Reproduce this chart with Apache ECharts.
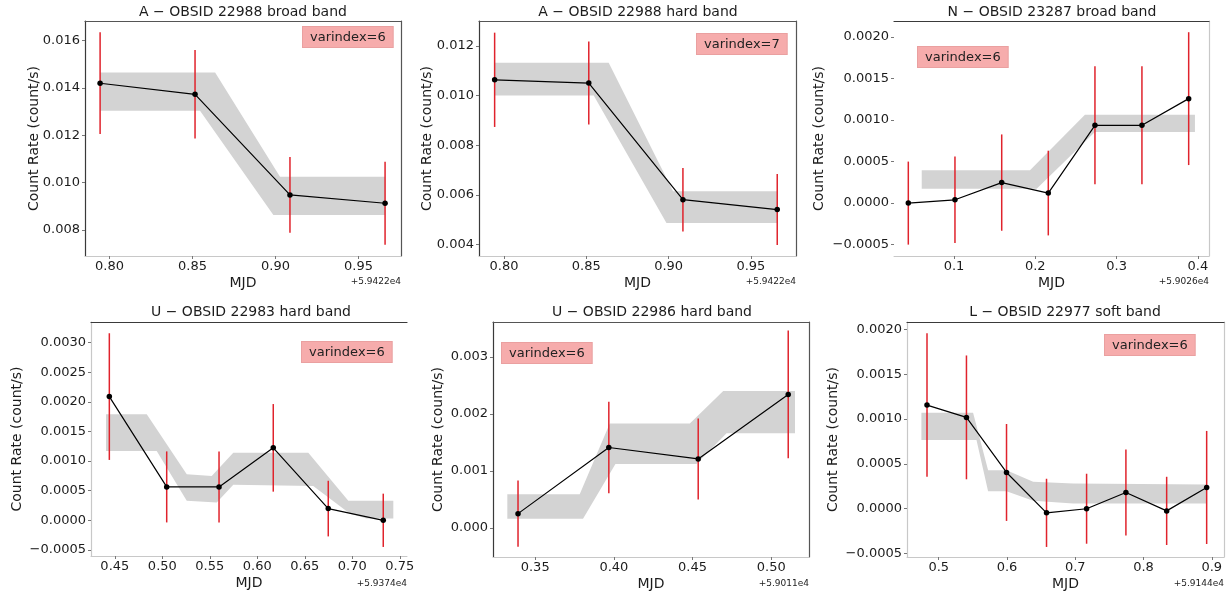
<!DOCTYPE html>
<html>
<head>
<meta charset="utf-8">
<script src="https://cdn.jsdelivr.net/npm/echarts@6/dist/echarts.min.js"></script>
<style>html,body{margin:0;padding:0;background:#fff}#c{width:1232px;height:602px}</style>
</head>
<body>
<div id="c"></div>
<script>
// ---------------- DATA (MJD fractional part relative to the offset shown on each axis) ----------------
const titles = ['A \u2212 OBSID 22988 broad band', 'A \u2212 OBSID 22988 hard band', 'N \u2212 OBSID 23287 broad band',
                'U \u2212 OBSID 22983 hard band', 'U \u2212 OBSID 22986 hard band', 'L \u2212 OBSID 22977 soft band'];
const varIndexLabels = ['varindex=6', 'varindex=7', 'varindex=6', 'varindex=6', 'varindex=6', 'varindex=6'];
const offsetLabels = ['+5.9422e4', '+5.9422e4', '+5.9026e4', '+5.9374e4', '+5.9011e4', '+5.9144e4'];

// Panel 1: A broad
const t1 = [0.7943, 0.8515, 0.9087, 0.9660];
const r1 = [0.01420, 0.01373, 0.00948, 0.00913];
const e1 = [0.00215, 0.00187, 0.00160, 0.00175];
const b1UpX = [0.7943, 0.8636, 0.9027, 0.9660];
const b1Up  = [0.01465, 0.01465, 0.01025, 0.01025];
const b1LoX = [0.7943, 0.8545, 0.8987, 0.9660];
const b1Lo  = [0.01304, 0.01304, 0.00863, 0.00863];

// Panel 2: A hard
const t2 = [0.7943, 0.8515, 0.9087, 0.9660];
const r2 = [0.01064, 0.01051, 0.00581, 0.00541];
const e2 = [0.00190, 0.00167, 0.00128, 0.00143];
const b2UpX = [0.7943, 0.8636, 0.9027, 0.9660];
const b2Up  = [0.01133, 0.01133, 0.00615, 0.00615];
const b2LoX = [0.7943, 0.8545, 0.8987, 0.9660];
const b2Lo  = [0.01001, 0.01001, 0.00487, 0.00487];

// Panel 3: N broad
const t3 = [0.0438, 0.1012, 0.1587, 0.2160, 0.2734, 0.3312, 0.3887];
const r3 = [0.00000, 0.00004, 0.000247, 0.000121, 0.000937, 0.000937, 0.001258];
const e3 = [0.00050, 0.00052, 0.00058, 0.00051, 0.00071, 0.00071, 0.00080];
const b3UpX = [0.0603, 0.1935, 0.2611, 0.3964];
const b3Up  = [0.000395, 0.000395, 0.001065, 0.001065];
const b3LoX = [0.0603, 0.2017, 0.2734, 0.3964];
const b3Lo  = [0.000174, 0.000174, 0.000856, 0.000856];

// Panel 4: U 22983 hard
const t4 = [0.4442, 0.5046, 0.5597, 0.6168, 0.6747, 0.7326];
const r4 = [0.00209, 0.000564, 0.000564, 0.001224, 0.000198, 0.00000];
const e4 = [0.00107, 0.00060, 0.00060, 0.00074, 0.00047, 0.00045];
const b4UpX = [0.4407, 0.4836, 0.5257, 0.5520, 0.5747, 0.6537, 0.6958, 0.7432];
const b4Up  = [0.00179, 0.00179, 0.00078, 0.00075, 0.00114, 0.00114, 0.00033, 0.00033];
const b4LoX = [0.4407, 0.4941, 0.5257, 0.5573, 0.5747, 0.6589, 0.6976, 0.7152, 0.7432];
const b4Lo  = [0.00117, 0.00117, 0.00033, 0.00030, 0.00060, 0.00058, 0.00011, 0.00003, 0.00003];

// Panel 5: U 22986 hard
const t5 = [0.3391, 0.3968, 0.4536, 0.5108];
const r5 = [0.000251, 0.00141, 0.00121, 0.00234];
const e5 = [0.00058, 0.00080, 0.00071, 0.00112];
const b5UpX = [0.3323, 0.3783, 0.3974, 0.4483, 0.4695, 0.5151];
const b5Up  = [0.00059, 0.00059, 0.00183, 0.00183, 0.00240, 0.00240];
const b5LoX = [0.3323, 0.3804, 0.4010, 0.4525, 0.4716, 0.5151];
const b5Lo  = [0.00016, 0.00016, 0.00112, 0.00112, 0.00166, 0.00166];

// Panel 6: L soft
const t6 = [0.4828, 0.5406, 0.5993, 0.6579, 0.7166, 0.7742, 0.8339, 0.8925];
const r6 = [0.001155, 0.001018, 0.000404, -0.000046, 0.00000, 0.000181, -0.000024, 0.000237];
const e6 = [0.00080, 0.00069, 0.00054, 0.00038, 0.00039, 0.00048, 0.00038, 0.00063];
const b6UpX = [0.4746, 0.5503, 0.5723, 0.5993, 0.6383, 0.6969, 0.8925];
const b6Up  = [0.00107, 0.00107, 0.00043, 0.00043, 0.00030, 0.00028, 0.00027];
const b6LoX = [0.4746, 0.5553, 0.5723, 0.5993, 0.6383, 0.6969, 0.8925];
const b6Lo  = [0.000765, 0.000765, 0.000196, 0.000196, 0.000088, 0.000058, 0.000058];

// Tick values
const xTicks1 = [0.80, 0.85, 0.90, 0.95];
const yTicks1 = [0.008, 0.010, 0.012, 0.014, 0.016];
const xTicks2 = [0.80, 0.85, 0.90, 0.95];
const yTicks2 = [0.004, 0.006, 0.008, 0.010, 0.012];
const xTicks3 = [0.1, 0.2, 0.3, 0.4];
const yTicks3 = [-0.0005, 0.0, 0.0005, 0.0010, 0.0015, 0.0020];
const xTicks4 = [0.45, 0.50, 0.55, 0.60, 0.65, 0.70, 0.75];
const yTicks4 = [-0.0005, 0.0, 0.0005, 0.0010, 0.0015, 0.0020, 0.0025, 0.0030];
const xTicks5 = [0.35, 0.40, 0.45, 0.50];
const yTicks5 = [0.000, 0.001, 0.002, 0.003];
const xTicks6 = [0.5, 0.6, 0.7, 0.8, 0.9];
const yTicks6 = [-0.0005, 0.0, 0.0005, 0.0010, 0.0015, 0.0020];

// ---------------- LAYOUT ----------------
const DARK = '#3a3a3a', MID = '#555', LIGHT = '#c8c8c8', NONE = null;
const layout = [
  {grid:{left:85, top:21, width:316, height:235}, xr:[0.7852,0.9756], yr:[0.0069,0.01683], xd:2, yd:3, ygap:44,
   tx:243, ty:12, box:[303,27], off:[401,282], frame:{l:DARK,t:MID,r:MID,b:LIGHT}},
  {grid:{left:479, top:21, width:317, height:235}, xr:[0.7848,0.9774], yr:[0.00354,0.01301], xd:2, yd:3, ygap:45,
   tx:638, ty:12, box:[697,34], off:[796,282], frame:{l:DARK,t:MID,r:MID,b:LIGHT}},
  {grid:{left:894, top:21, width:315, height:235}, xr:[0.0262,0.4137], yr:[-0.000637,0.002193], xd:1, yd:4, ygap:68,
   tx:1052, ty:12, box:[918,47], off:[1209,282], frame:{l:NONE,t:DARK,r:LIGHT,b:LIGHT}},
  {grid:{left:91, top:322, width:316, height:234}, xr:[0.4249,0.7576], yr:[-0.000603,0.00335], xd:2, yd:4, ygap:67,
   tx:251, ty:312, box:[302,342], off:[407,584], frame:{l:LIGHT,t:DARK,r:NONE,b:LIGHT}},
  {grid:{left:493, top:322, width:316, height:235}, xr:[0.3232,0.524], yr:[-0.000509,0.003609], xd:2, yd:3, ygap:48,
   tx:652, ty:312, box:[502,343], off:[809,584], frame:{l:DARK,t:MID,r:MID,b:LIGHT}},
  {grid:{left:907, top:322, width:317, height:235}, xr:[0.4535,0.9179], yr:[-0.000538,0.002081], xd:1, yd:4, ygap:67,
   tx:1065, ty:312, box:[1105,335], off:[1224,584], frame:{l:LIGHT,t:DARK,r:LIGHT,b:LIGHT}}
];

const panels = [
  {t:t1, r:r1, e:e1, ux:b1UpX, u:b1Up, lx:b1LoX, l:b1Lo, xt:xTicks1, yt:yTicks1},
  {t:t2, r:r2, e:e2, ux:b2UpX, u:b2Up, lx:b2LoX, l:b2Lo, xt:xTicks2, yt:yTicks2},
  {t:t3, r:r3, e:e3, ux:b3UpX, u:b3Up, lx:b3LoX, l:b3Lo, xt:xTicks3, yt:yTicks3},
  {t:t4, r:r4, e:e4, ux:b4UpX, u:b4Up, lx:b4LoX, l:b4Lo, xt:xTicks4, yt:yTicks4},
  {t:t5, r:r5, e:e5, ux:b5UpX, u:b5Up, lx:b5LoX, l:b5Lo, xt:xTicks5, yt:yTicks5},
  {t:t6, r:r6, e:e6, ux:b6UpX, u:b6Up, lx:b6LoX, l:b6Lo, xt:xTicks6, yt:yTicks6}
];

const FONT = 'DejaVu Sans';
const TXT = '#1c1c1c';
const ERR = '#e0232c';
const BAND = '#d3d3d3';

function fmt(d) {
  return function (v) {
    const s = Math.abs(v).toFixed(d);
    return (v < -1e-12 ? '\u2212' : '') + s;
  };
}

const grids = [], xAxes = [], yAxes = [], series = [], graphics = [];

panels.forEach(function (p, i) {
  const L = layout[i];
  grids.push(Object.assign({containLabel:false}, L.grid));
  const f = L.frame;
  // bottom x axis (main)
  xAxes.push({
    type:'value', gridIndex:i, position:'bottom', min:L.xr[0], max:L.xr[1],
    axisLine:{show:!!f.b, onZero:false, lineStyle:{color:f.b || '#fff', width:1}},
    axisTick:{show:true, length:3, lineStyle:{color:'#777'}, customValues:p.xt},
    axisLabel:{customValues:p.xt, formatter:fmt(L.xd), margin:4, fontSize:13, fontFamily:FONT, color:TXT},
    splitLine:{show:false},
    name:'MJD', nameLocation:'middle', nameGap:20, nameMoveOverlap:false,
    nameTextStyle:{fontSize:14, fontFamily:FONT, color:TXT}
  });
  // top x axis (frame only)
  xAxes.push({
    type:'value', gridIndex:i, position:'top', min:L.xr[0], max:L.xr[1],
    axisLine:{show:!!f.t, onZero:false, lineStyle:{color:f.t || '#fff', width:1.2}},
    axisTick:{show:false}, axisLabel:{show:false}, splitLine:{show:false}
  });
  // left y axis (main)
  yAxes.push({
    type:'value', gridIndex:i, position:'left', min:L.yr[0], max:L.yr[1],
    axisLine:{show:!!f.l, onZero:false, lineStyle:{color:f.l || '#fff', width:1.2}},
    axisTick:{show:true, length:3, lineStyle:{color:'#777'}, customValues:p.yt},
    axisLabel:{customValues:p.yt, formatter:fmt(L.yd), margin:5, fontSize:13, fontFamily:FONT, color:TXT},
    splitLine:{show:false},
    name:'Count Rate (count/s)', nameLocation:'middle', nameGap:L.ygap, nameRotate:90, nameMoveOverlap:false,
    nameTextStyle:{fontSize:14, fontFamily:FONT, color:TXT}
  });
  // right y axis (frame only)
  yAxes.push({
    type:'value', gridIndex:i, position:'right', min:L.yr[0], max:L.yr[1],
    axisLine:{show:!!f.r, onZero:false, lineStyle:{color:f.r || '#fff', width:1.2}},
    axisTick:{show:false}, axisLabel:{show:false}, splitLine:{show:false}
  });

  const xi = 2 * i, yi = 2 * i;
  // grey band polygon, through the axis scales
  series.push({
    type:'custom', xAxisIndex:xi, yAxisIndex:yi, silent:true, z:1, clip:true,
    data:[[p.ux[0], p.u[0]]],
    renderItem:function (params, api) {
      const pts = [];
      for (let k = 0; k < p.ux.length; k++) pts.push(api.coord([p.ux[k], p.u[k]]));
      for (let k = p.lx.length - 1; k >= 0; k--) pts.push(api.coord([p.lx[k], p.l[k]]));
      return {type:'polygon', shape:{points:pts}, style:{fill:BAND}};
    }
  });
  // red error bars
  series.push({
    type:'custom', xAxisIndex:xi, yAxisIndex:yi, silent:true, z:2,
    data:p.t.map(function (x, k) { return [x, p.r[k] - p.e[k], p.r[k] + p.e[k]]; }),
    encode:{x:0, y:[1, 2]},
    renderItem:function (params, api) {
      const a = api.coord([api.value(0), api.value(1)]);
      const b = api.coord([api.value(0), api.value(2)]);
      return {type:'line', shape:{x1:a[0], y1:a[1], x2:b[0], y2:b[1]}, style:{stroke:ERR, lineWidth:1.5}};
    }
  });
  // black line with markers
  series.push({
    type:'line', xAxisIndex:xi, yAxisIndex:yi, z:3, silent:true,
    data:p.t.map(function (x, k) { return [x, p.r[k]]; }),
    symbol:'circle', symbolSize:5.5, showSymbol:true,
    itemStyle:{color:'#000'}, lineStyle:{color:'#000', width:1.2}
  });

  // panel title
  graphics.push({type:'text', x:L.tx, y:L.ty, silent:true,
    style:{text:titles[i], fontSize:14, fontFamily:FONT, fill:TXT, align:'center', verticalAlign:'middle'}});
  // offset text
  graphics.push({type:'text', x:L.off[0], y:L.off[1], silent:true,
    style:{text:offsetLabels[i], fontSize:9, fontFamily:FONT, fill:TXT, align:'right', verticalAlign:'middle'}});
  // varindex box
  graphics.push({type:'text', x:L.box[0], y:L.box[1], silent:true, z:10,
    style:{text:varIndexLabels[i], fontSize:13, fontFamily:FONT, fill:'#222', align:'left', verticalAlign:'top',
           backgroundColor:'#f6acac', borderColor:'#eaa0a0', borderWidth:1, padding:[4, 7, 3, 7]}});
});

const chart = echarts.init(document.getElementById('c'), null, {renderer:'canvas'});
chart.setOption({
  animation:false,
  backgroundColor:'#ffffff',
  grid:grids, xAxis:xAxes, yAxis:yAxes, series:series, graphic:graphics
});
</script>
</body>
</html>
